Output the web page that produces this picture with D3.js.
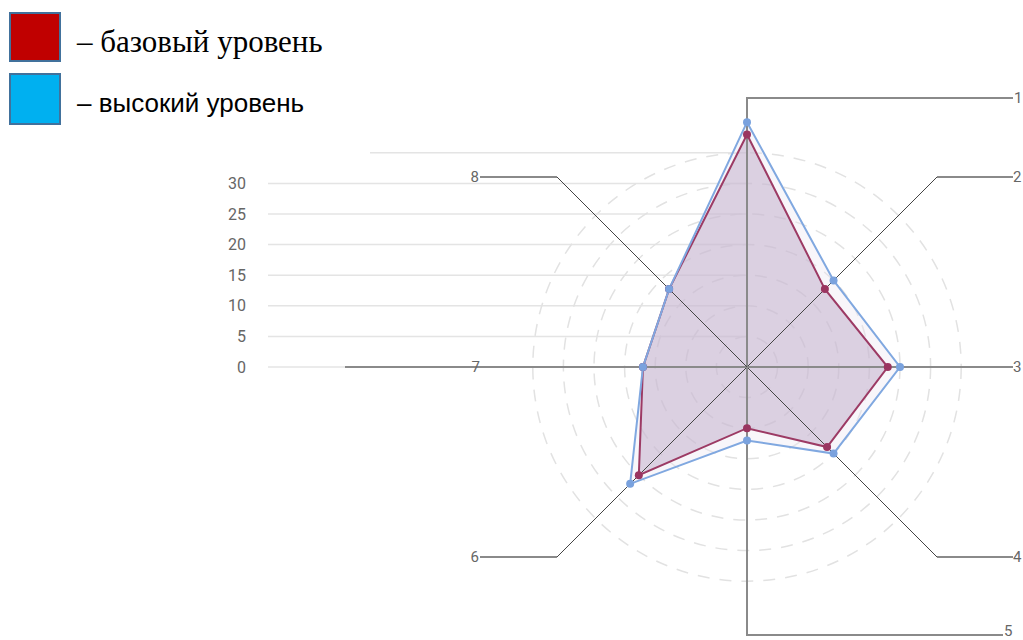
<!DOCTYPE html>
<html>
<head>
<meta charset="utf-8">
<script src="https://cdn.jsdelivr.net/npm/d3@7"></script>
<style>
  html, body { margin: 0; padding: 0; background: #fff; }
  svg { display: block; }
</style>
</head>
<body>
<svg id="chart" width="1023" height="640"></svg>
<script>
// ---- data ----
const axisLabels = ["1", "2", "3", "4", "5", "6", "7", "8"];
const baseValues = [38, 18, 23, 18.5, 10, 25, 17, 18];
const highValues = [40, 20, 25, 20, 12, 27, 17, 18];
const tickValues = [0, 5, 10, 15, 20, 25, 30];
const ringValues = [5, 10, 15, 20, 25, 30, 35];
const legendItems = ["– базовый уровень", "– высокий уровень"];

const svg = d3.select("#chart");
const cx = 747, cy = 367;
const r = d3.scaleLinear().domain([0, 30]).range([0, 183.6]);
const angle = i => i * Math.PI / 4; // clockwise from top
const px = (i, v) => cx + r(v) * Math.sin(angle(i));
const py = (i, v) => cy - r(v) * Math.cos(angle(i));

// horizontal gridlines (left scale)
const grid = svg.append("g");
grid.selectAll("line.g").data(tickValues).join("line")
  .attr("x1", 268).attr("x2", cx)
  .attr("y1", d => cy - r(d)).attr("y2", d => cy - r(d))
  .attr("stroke", "#e4e4e4").attr("stroke-width", 1.5);
grid.append("line").attr("x1", 370).attr("x2", cx)
  .attr("y1", cy - r(35)).attr("y2", cy - r(35))
  .attr("stroke", "#e4e4e4").attr("stroke-width", 1.5);
grid.selectAll("text").data(tickValues).join("text")
  .attr("x", 246).attr("y", d => cy - r(d)).attr("dy", "0.35em")
  .attr("text-anchor", "end")
  .attr("font-family", "Roboto, 'Noto Sans', sans-serif")
  .attr("font-size", 16).attr("fill", "#666")
  .text(d => d);

// dashed rings
svg.append("g").selectAll("circle").data(ringValues).join("circle")
  .attr("cx", cx).attr("cy", cy).attr("r", d => r(d))
  .attr("fill", "none").attr("stroke", "#e2e2e2").attr("stroke-width", 1.5)
  .attr("stroke-dasharray", "12,10");

// series polygons
const line = d3.line().curve(d3.curveLinearClosed);
const ptsBase = baseValues.map((v, i) => [px(i, v), py(i, v)]);
const ptsHigh = highValues.map((v, i) => [px(i, v), py(i, v)]);

svg.append("path").attr("d", line(ptsHigh))
  .attr("fill", "rgba(235,228,242,0.35)").attr("stroke", "none");
svg.append("path").attr("d", line(ptsBase))
  .attr("fill", "rgba(190,170,200,0.5)").attr("stroke", "none");

// axes with leader lines
const axes = svg.append("g");
const mainGray = "#8a8a8a";
function leader(i) {
  const p = [[cx, cy]];
  switch (i) {
    case 0: p.push([cx, 98], [1013, 98]); return {p, lx: 1014, ly: 98, a: "start", main: true};
    case 1: p.push([937, 177]); return {p, ext: [[937, 177], [1013, 177]], lx: 1013, ly: 177, a: "start"};
    case 2: p.push([1013, cy]); return {p, lx: 1013, ly: cy, a: "start", main: true};
    case 3: p.push([937, 557]); return {p, ext: [[937, 557], [1013, 557]], lx: 1013, ly: 557, a: "start"};
    case 4: p.push([cx, 635], [1003, 635]); return {p, lx: 1004, ly: 631, a: "start", main: true};
    case 5: p.push([557, 557]); return {p, ext: [[557, 557], [480, 557]], lx: 479, ly: 557, a: "end"};
    case 6: p.push([345, cy]); return {p, lx: 480, ly: cy, a: "end", main: true};
    case 7: p.push([557, 177]); return {p, ext: [[557, 177], [480, 177]], lx: 479, ly: 177, a: "end"};
  }
}
const lineGen = d3.line();
axisLabels.forEach((lab, i) => {
  const L = leader(i);
  axes.append("path").attr("d", lineGen(L.p)).attr("fill", "none")
    .attr("stroke", L.main ? mainGray : "#444").attr("stroke-width", L.main ? 2 : 1);
  if (L.ext) axes.append("path").attr("d", lineGen(L.ext)).attr("fill", "none")
    .attr("stroke", mainGray).attr("stroke-width", 2);
  axes.append("text").attr("x", L.lx).attr("y", L.ly).attr("dy", "0.35em")
    .attr("text-anchor", L.a)
    .attr("font-family", "Roboto, 'Noto Sans', sans-serif")
    .attr("font-size", 15).attr("fill", "#666").text(lab);
});

// series strokes and markers
svg.append("path").attr("d", line(ptsBase)).attr("fill", "none")
  .attr("stroke", "#9c3a64").attr("stroke-width", 2);
svg.append("path").attr("d", line(ptsHigh)).attr("fill", "none")
  .attr("stroke", "#80a8e0").attr("stroke-width", 2);
svg.append("g").selectAll("circle").data(ptsHigh).join("circle")
  .attr("cx", d => d[0]).attr("cy", d => d[1]).attr("r", 4).attr("fill", "#7aa2de");
svg.append("g").selectAll("circle").data(ptsBase).join("circle")
  .attr("cx", d => d[0]).attr("cy", d => d[1]).attr("r", 4).attr("fill", "#9a3560");
svg.append("g").selectAll("circle").data(ptsHigh.filter((d, i) => highValues[i] === baseValues[i])).join("circle")
  .attr("cx", d => d[0]).attr("cy", d => d[1]).attr("r", 4).attr("fill", "#7aa2de");

// legend
const legend = svg.append("g");
legend.append("rect").attr("x", 10).attr("y", 13).attr("width", 50).attr("height", 48)
  .attr("fill", "#c00000").attr("stroke", "#41719c").attr("stroke-width", 2);
legend.append("rect").attr("x", 10).attr("y", 74).attr("width", 50).attr("height", 50)
  .attr("fill", "#00b0f0").attr("stroke", "#41719c").attr("stroke-width", 2);
legend.append("text").attr("x", 77).attr("y", 52)
  .attr("font-family", "'Liberation Serif', 'Times New Roman', serif")
  .attr("font-size", 31).attr("fill", "#000").text(legendItems[0]);
legend.append("text").attr("x", 77).attr("y", 112)
  .attr("font-family", "'Liberation Sans', Arial, sans-serif")
  .attr("font-size", 26).attr("fill", "#000").text(legendItems[1]);
</script>
</body>
</html>
